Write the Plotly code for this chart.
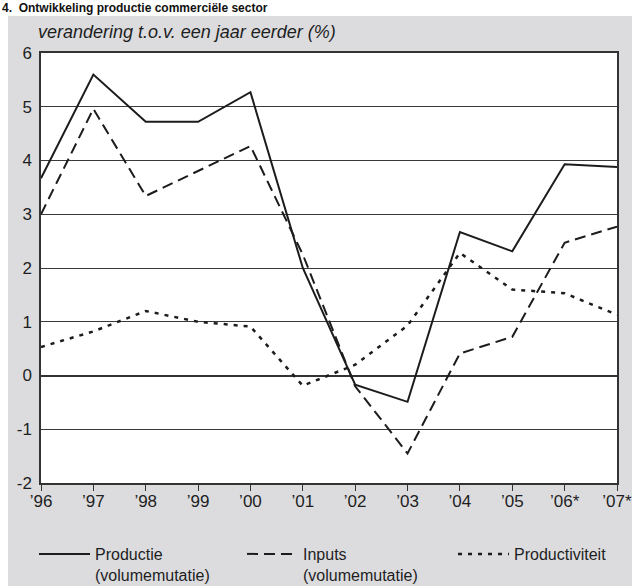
import plotly.graph_objects as go

# Jaren (categorieën op de x-as)
jaren = ["’96", "’97", "’98", "’99", "’00", "’01", "’02", "’03", "’04", "’05", "’06*", "’07*"]

# Verandering t.o.v. een jaar eerder (%)
productie = [3.67, 5.60, 4.72, 4.72, 5.27, 2.00, -0.17, -0.49, 2.67, 2.31, 3.93, 3.88]
inputs = [3.00, 4.96, 3.34, 3.80, 4.27, 2.25, -0.20, -1.45, 0.41, 0.72, 2.47, 2.77]
productiviteit = [0.53, 0.82, 1.20, 1.00, 0.91, -0.19, 0.20, 0.93, 2.28, 1.60, 1.53, 1.13]

# y-as labels (met gewoon koppelteken als minteken)
y_waarden = [-2, -1, 0, 1, 2, 3, 4, 5, 6]
y_labels = ["-2", "-1", "0", "1", "2", "3", "4", "5", "6"]

W, H = 632, 586
ML, MR, MT, MB = 41, 15, 53, 103
PW, PH = W - ML - MR, H - MT - MB

GRIJS = "#dcdcde"
INK = "#1c1c1c"
TEKST = "#1e1e1e"
FONT = "Liberation Sans, Arial, sans-serif"


def px_x(px):
    return (px - ML) / PW


def px_y(py):
    return (H - MB - py) / PH


fig = go.Figure()

fig.add_trace(go.Scatter(
    x=jaren, y=productie, mode="lines",
    name="Productie<br>(volumemutatie)", legend="legend",
    line=dict(color=INK, width=2),
))
fig.add_trace(go.Scatter(
    x=jaren, y=inputs, mode="lines",
    name="Inputs<br>(volumemutatie)", legend="legend2",
    line=dict(color=INK, width=2, dash="11px,6px"),
))
fig.add_trace(go.Scatter(
    x=jaren, y=productiviteit, mode="lines",
    name="Productiviteit", legend="legend3",
    line=dict(color=INK, width=2.5, dash="4px,6px"),
))

# witte strook boven en links van het grijze kader
fig.add_shape(type="rect", xref="paper", yref="paper", layer="below",
              x0=px_x(-5), x1=px_x(W + 5), y0=px_y(16), y1=px_y(-5),
              fillcolor="white", line_width=0)
fig.add_shape(type="rect", xref="paper", yref="paper", layer="below",
              x0=px_x(-5), x1=px_x(8), y0=px_y(H + 5), y1=px_y(-5),
              fillcolor="white", line_width=0)

fig.add_annotation(
    text="<b>4.  Ontwikkeling productie commerciële sector</b>",
    xref="paper", yref="paper", x=px_x(0), y=px_y(8.5),
    xanchor="left", yanchor="middle", showarrow=False,
    font=dict(family=FONT, size=12, color="#111111"),
)
fig.add_annotation(
    text="<i>verandering t.o.v. een jaar eerder (%)</i>",
    xref="paper", yref="paper", x=px_x(36), y=px_y(32),
    xanchor="left", yanchor="middle", showarrow=False,
    font=dict(family=FONT, size=18, color=TEKST),
)


def legenda(sample_px):
    return dict(
        orientation="h", x=px_x(sample_px - 7), y=px_y(537),
        xanchor="left", yanchor="top",
        bgcolor="rgba(0,0,0,0)", itemwidth=51, valign="top",
        font=dict(family=FONT, size=16, color=TEKST),
    )


fig.update_layout(
    width=W, height=H,
    margin=dict(l=ML, r=MR, t=MT, b=MB, autoexpand=False),
    paper_bgcolor=GRIJS,
    plot_bgcolor="white",
    font=dict(family=FONT, size=16, color=TEKST),
    showlegend=True,
    legend=legenda(41),
    legend2=legenda(249),
    legend3=legenda(460),
    xaxis=dict(
        type="category", range=[0, 11],
        showgrid=False, zeroline=False,
        showline=True, linecolor="#333333", linewidth=1.5, mirror=True,
        ticks="outside", ticklen=6, tickcolor="#333333", tickwidth=1.2,
        ticklabelstandoff=-4,
        tickfont=dict(size=17),
    ),
    yaxis=dict(
        range=[-2, 6], tickvals=y_waarden, ticktext=y_labels,
        showgrid=True, gridcolor="#3a3a3a", gridwidth=1,
        zeroline=True, zerolinecolor="#333333", zerolinewidth=2,
        showline=True, linecolor="#333333", linewidth=1.5, mirror=True,
        ticks="", ticklabelstandoff=4,
        tickfont=dict(size=17),
    ),
)

fig.write_html("out.html")
